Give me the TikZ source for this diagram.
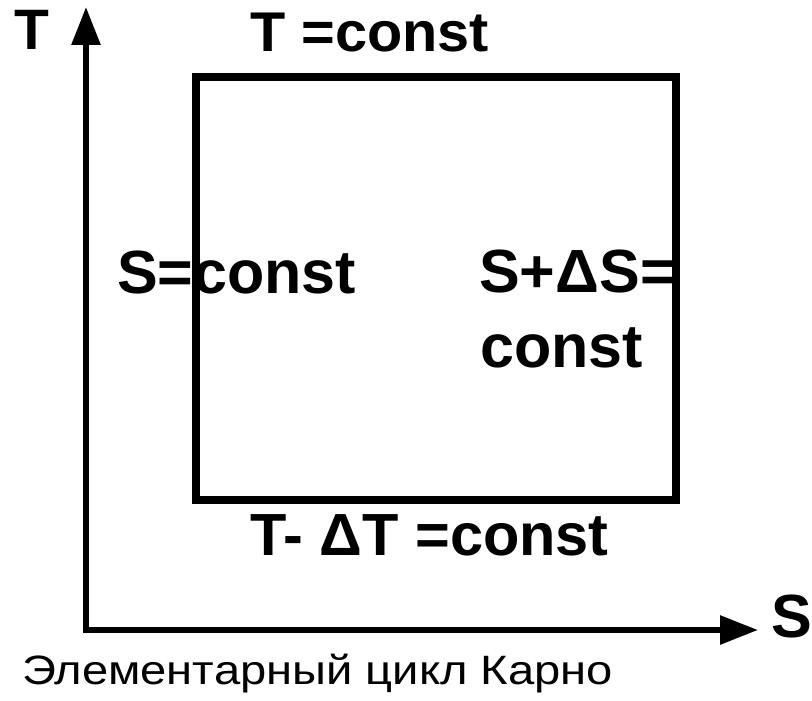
\documentclass[tikz,border=0pt]{standalone}
\usepackage{fontspec}
\setmainfont{Liberation Sans}
\usetikzlibrary{arrows.meta}
\tikzset{
  axisline/.style={line width=6pt, miter limit=10,
    arrows={Triangle[length=38pt,width=28pt]-Triangle[length=38pt,width=28pt]}},
  boxline/.style={line width=7.5pt, line join=miter},
  lbl/.style={inner sep=0pt, anchor=base west, font=\bfseries},
  captext/.style={inner sep=0pt, anchor=base west}
}
\newcommand{\fsz}[1]{\fontsize{#1}{#1}\selectfont}
\begin{document}
\begin{tikzpicture}[x=1pt,y=-1pt]
\useasboundingbox (0,0) rectangle (812,701);
% axes
\coordinate (O) at (86,630);
\coordinate (Ttip) at (86,7);
\coordinate (Stip) at (758,630);
\draw[axisline] (Ttip) -- (O) -- (Stip);
% box
\coordinate (A) at (196,77);
\coordinate (B) at (676,500);
\draw[boxline] (A) rectangle (B);
% labels
\node[lbl] (tlab) at (14,50) {\fsz{57}T};
\node[lbl] (slab) at (771,637) {\fsz{61}S};
\node[lbl, xscale=1.03] (top) at (250,52) {\fsz{56}T =const};
\node[lbl] (left) at (117,293) {\fsz{61}S=const};
\node[lbl] (right1) at (479,292) {\fsz{61}S+ΔS=};
\node[lbl] (right2) at (480,367) {\fsz{61}const};
\node[lbl] (bottom) at (250,555) {\fsz{59.5}T- ΔT =const};
\node[captext, xscale=1.15] (caption) at (22,684) {\fsz{41}Элементарный цикл Карно};
\end{tikzpicture}
\end{document}
